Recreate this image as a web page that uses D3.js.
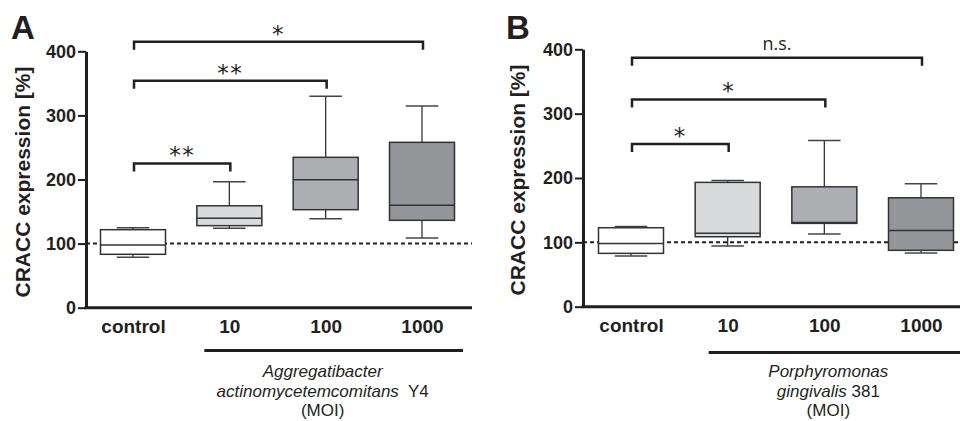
<!DOCTYPE html>
<html>
<head>
<meta charset="utf-8">
<script src="https://cdn.jsdelivr.net/npm/d3@7"></script>
<style>
  body { margin: 0; background: #fff; }
  svg { display: block; }
  text { fill: #231f20; }
</style>
</head>
<body>
<div id="chart"></div>
<script>
// groups on the x axis
var categories = ["control", "10", "100", "1000"];
var yTicks = [0, 100, 200, 300, 400];

// panel A - Aggregatibacter actinomycetemcomitans Y4
var aaMin = [78.6, 123.9, 138.8, 108.7];
var aaQ1 = [83.3, 128, 152.9, 136.3];
var aaMed = [97.8, 139.5, 199.7, 159.7];
var aaQ3 = [121.7, 159, 234.6, 258];
var aaMax = [124.8, 196.6, 329.8, 314.7];
var aaSigTo = ["10", "100", "1000"];
var aaSigLevel = [225, 354, 415];
var aaSigLabel = ["**", "**", "*"];

// panel B - Porphyromonas gingivalis 381
var pgMin = [78.7, 94.3, 112.9, 83.4];
var pgQ1 = [82.9, 108.7, 129.5, 87.6];
var pgMed = [98.4, 114, 131, 118.6];
var pgQ3 = [122.7, 193.2, 186.3, 169.3];
var pgMax = [124.8, 196.3, 258.4, 191];
var pgSigTo = ["10", "100", "1000"];
var pgSigLevel = [253, 322, 387];
var pgSigLabel = ["*", "*", "n.s."];

// box colours, control -> 1000
var boxFills = ["#ffffff", "#d9dadc", "#adaeb1", "#939598"];

var width = 960;
var height = 421;
var ink = "#231f20";

var svg = d3.select("#chart")
	.append("svg")
	.attr("width", width)
	.attr("height", height);

function drawPanel(p) {
	var g = svg.append("g");

	var y = d3.scaleLinear().domain([0, 400]).range([p.yBottom, p.yTop]);
	var x = d3.scalePoint().domain(categories).range([p.xFirst, p.xLast]);
	var boxW = 65;

	// dashed 100% line (under the boxes)
	g.append("line")
		.attr("x1", p.axisX).attr("x2", p.xEnd)
		.attr("y1", y(100)).attr("y2", y(100))
		.attr("stroke", ink)
		.attr("stroke-width", 2)
		.attr("stroke-dasharray", "4,3");

	// boxes
	var rows = categories.map(function (c, i) {
		return { cat: c, min: p.min[i], q1: p.q1[i], med: p.med[i], q3: p.q3[i], max: p.max[i], fill: boxFills[i] };
	});
	var box = g.selectAll(".box").data(rows).enter().append("g").attr("class", "box");

	box.append("line") // whisker
		.attr("x1", function (d) { return x(d.cat); })
		.attr("x2", function (d) { return x(d.cat); })
		.attr("y1", function (d) { return y(d.min); })
		.attr("y2", function (d) { return y(d.max); })
		.attr("stroke", "#333").attr("stroke-width", 1.3);
	box.selectAll(".cap")
		.data(function (d) { return [{ cat: d.cat, v: d.min }, { cat: d.cat, v: d.max }]; })
		.enter().append("line")
		.attr("x1", function (d) { return x(d.cat) - boxW / 4; })
		.attr("x2", function (d) { return x(d.cat) + boxW / 4; })
		.attr("y1", function (d) { return y(d.v); })
		.attr("y2", function (d) { return y(d.v); })
		.attr("stroke", "#444").attr("stroke-width", 1.5);
	box.append("rect")
		.attr("x", function (d) { return x(d.cat) - boxW / 2; })
		.attr("width", boxW)
		.attr("y", function (d) { return y(d.q3); })
		.attr("height", function (d) { return y(d.q1) - y(d.q3); })
		.attr("fill", function (d) { return d.fill; })
		.attr("stroke", "#333").attr("stroke-width", 1.5);
	box.append("line") // median
		.attr("x1", function (d) { return x(d.cat) - boxW / 2; })
		.attr("x2", function (d) { return x(d.cat) + boxW / 2; })
		.attr("y1", function (d) { return y(d.med); })
		.attr("y2", function (d) { return y(d.med); })
		.attr("stroke", "#333").attr("stroke-width", 1.5);

	// y axis
	var yAxis = d3.axisLeft(y).tickValues(yTicks).tickSize(8).tickSizeOuter(0).tickPadding(2);
	var ya = g.append("g")
		.attr("transform", "translate(" + p.axisX + ",0)")
		.call(yAxis);
	ya.select(".domain").attr("stroke", ink).attr("stroke-width", 3);
	ya.selectAll(".tick line").attr("stroke", ink).attr("stroke-width", 2);
	ya.selectAll(".tick text")
		.attr("fill", ink)
		.style("font", "bold 18px 'Liberation Sans', Arial, sans-serif");

	// x axis: plain line plus labels
	g.append("line")
		.attr("x1", p.axisX - 1.5).attr("x2", p.xEnd)
		.attr("y1", y(0)).attr("y2", y(0))
		.attr("stroke", ink).attr("stroke-width", 3);
	var xa = g.append("g")
		.attr("transform", "translate(0," + y(0) + ")")
		.call(d3.axisBottom(x).tickSize(0).tickPadding(12));
	xa.select(".domain").remove();
	xa.selectAll(".tick text")
		.attr("fill", ink)
		.style("font", "bold 19px 'Liberation Sans', Arial, sans-serif");

	// y label
	g.append("text")
		.attr("transform", "translate(" + p.labelX + "," + p.labelY + ") rotate(-90)")
		.attr("text-anchor", "middle")
		.style("font", "bold 21px 'Liberation Sans', Arial, sans-serif")
		.text("CRACC expression [%]");

	// panel letter
	g.append("text")
		.attr("x", p.letterX).attr("y", 39)
		.style("font", "bold 33px 'Liberation Sans', Arial, sans-serif")
		.text(p.letter);

	// significance brackets
	p.sigTo.forEach(function (c, i) {
		var x1 = x("control") + 1, x2 = x(c) + 1, yy = y(p.sigLevel[i]);
		g.append("path")
			.attr("d", "M" + x1 + "," + (yy + 8) + "V" + yy + "H" + x2 + "V" + (yy + 8))
			.attr("fill", "none")
			.attr("stroke", ink)
			.attr("stroke-width", 2.5);
		var isStar = p.sigLabel[i].indexOf("*") >= 0;
		g.append("text")
			.attr("x", (x1 + x2) / 2)
			.attr("y", isStar ? yy + 0 : yy - 7.5)
			.attr("text-anchor", "middle")
			.style("font", isStar ? "23px 'DejaVu Sans', sans-serif" : "18px 'Open Sans', sans-serif")
			.style("letter-spacing", isStar ? "1.5px" : "0px")
			.text(p.sigLabel[i]);
	});

	// group underline
	g.append("line")
		.attr("x1", x("10") - p.barLeft).attr("x2", p.barRight === null ? width : x("1000") + p.barRight)
		.attr("y1", p.barY).attr("y2", p.barY)
		.attr("stroke", ink).attr("stroke-width", 3);

	// species caption
	var cap = g.append("text")
		.attr("text-anchor", "middle")
		.style("font", "17px 'Liberation Sans', Arial, sans-serif");
	p.caption.forEach(function (line, i) {
		var t = cap.append("tspan")
			.attr("x", x("100") + p.capShift)
			.attr("y", p.capY + i * 19.5);
		line.forEach(function (part) {
			t.append("tspan")
				.style("font-style", part[1] ? "italic" : "normal")
				.text(part[0]);
		});
	});
}

drawPanel({
	letter: "A", letterX: 11,
	min: aaMin, q1: aaQ1, med: aaMed, q3: aaQ3, max: aaMax,
	sigTo: aaSigTo, sigLevel: aaSigLevel, sigLabel: aaSigLabel,
	axisX: 86, yBottom: 307.7, yTop: 51.3, xFirst: 133, xLast: 422, xEnd: 472,
	labelX: 30, labelY: 182,
	barY: 350.5, barLeft: 25, barRight: 41,
	capShift: -3, capY: 377,
	caption: [[["Aggregatibacter", true]], [["actinomycetemcomitans", true], ["\u00a0 Y4", false]], [["(MOI)", false]]]
});

drawPanel({
	letter: "B", letterX: 506,
	min: pgMin, q1: pgQ1, med: pgMed, q3: pgQ3, max: pgMax,
	sigTo: pgSigTo, sigLevel: pgSigLevel, sigLabel: pgSigLabel,
	axisX: 583, yBottom: 306.7, yTop: 49.3, xFirst: 631, xLast: 921, xEnd: 960,
	labelX: 525, labelY: 180,
	barY: 352.5, barLeft: 19, barRight: null,
	capShift: 4, capY: 377,
	caption: [[["Porphyromonas", true]], [["gingivalis", true], [" 381", false]], [["(MOI)", false]]]
});
</script>
</body>
</html>
